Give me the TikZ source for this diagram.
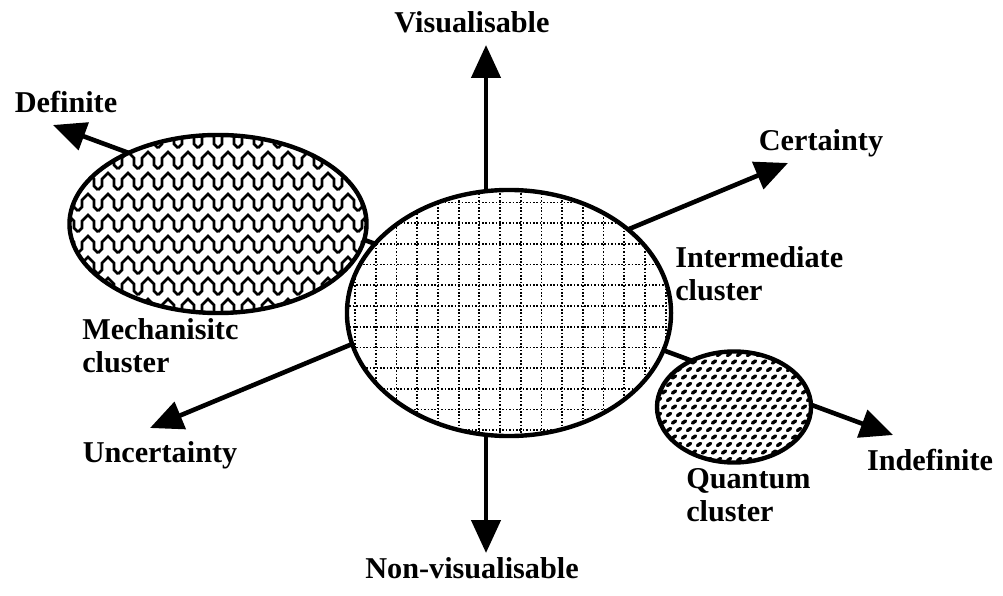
\documentclass[tikz,border=0pt]{standalone}
\usepackage{fontspec}
\setmainfont{Liberation Serif}
\usetikzlibrary{arrows.meta,shapes.geometric}
\begin{document}
\begin{tikzpicture}[x=0.025cm,y=-0.025cm,
  tip/.tip={Triangle[length=0.82cm,width=0.72cm]},
  axis/.style={line width=0.115cm,{tip}-{tip}},
  cluster/.style={ellipse,draw,line width=0.11cm,fill=white,inner sep=0pt},
  lbl/.style={inner sep=0pt,font=\fontsize{21.5pt}{23.4pt}\selectfont\bfseries},
  dotline/.style={line width=0.045cm,dash pattern=on 0.04cm off 0.045cm},
  zig/.style={line width=0.065cm,line join=miter},
  qdash/.style={line width=0.085cm,line cap=round}
]
\useasboundingbox (0,0) rectangle (1003,596);

% axis end points
\coordinate (vis) at (486,45);
\coordinate (nonvis) at (486,553);
\coordinate (def) at (53,125);
\coordinate (indef) at (893,435);
\coordinate (cert) at (788,163);
\coordinate (uncert) at (150,428);

% axes
\draw[axis] (vis) -- (nonvis);
\draw[axis] (def) -- (indef);
\draw[axis] (cert) -- (uncert);

% mechanistic cluster
\node[cluster,minimum width=7.425cm,minimum height=4.45cm,
  path picture={
    \begin{scope}[shift={(path picture bounding box.center)}]
      \foreach \r in {-6,...,6}{
        \foreach \c in {-9,...,8}{
          \draw[zig] (\c*20,\r*21+8) -- ++(4,-4) -- ++(0,-7) -- ++(6,-6) -- ++(6,6) -- ++(0,7) -- ++(4,4);
        }
      }
    \end{scope}
  }] (mech) at (218,224) {};

% intermediate cluster
\node[cluster,minimum width=8.1cm,minimum height=6.15cm,
  path picture={
    \begin{scope}[shift={(path picture bounding box.center)}]
      \foreach \k in {-9,...,9}{
        \draw[dotline] (\k*20.7-9,-140) -- (\k*20.7-9,140);
        \draw[dotline] (-180,\k*20.7-7) -- (180,\k*20.7-7);
      }
      \foreach \a in {-9,...,8}{
        \foreach \b in {-7,...,6}{
          \fill (\a*20.7+1.35,\b*20.7+3.35) circle (0.04cm);
        }
      }
    \end{scope}
  }] (inter) at (509,313) {};

% quantum cluster
\node[cluster,minimum width=3.85cm,minimum height=2.775cm,
  path picture={
    \begin{scope}[shift={(path picture bounding box.center)}]
      \foreach \r in {-9,...,9}{
        \pgfmathsetmacro\off{5*abs(mod(\r,2))}
        \foreach \c in {-9,...,9}{
          \draw[qdash] (\c*10+\off-1.6,\r*7.5+1.1) -- ++(3.2,-2.2);
        }
      }
    \end{scope}
  }] (quant) at (734,407) {};

% labels
\node[lbl,anchor=base] (tvis) at (472,33) {Visualisable};
\node[lbl,anchor=base] (tnonvis) at (472,578) {Non-visualisable};
\node[lbl,anchor=base] (tdef) at (66,113) {Definite};
\node[lbl,anchor=base] (tindef) at (930,470) {Indefinite};
\node[lbl,anchor=base] (tcert) at (821,151) {Certainty};
\node[lbl,anchor=base] (tuncert) at (160,462) {Uncertainty};
\node[lbl,anchor=north west,align=left] (tinter) at (675,246) {Intermediate\\cluster};
\node[lbl,anchor=north west,align=left] (tmech) at (82,318) {Mechanisitc\\cluster};
\node[lbl,anchor=north west,align=left] (tquant) at (686,468) {Quantum\\cluster};
\end{tikzpicture}
\end{document}
